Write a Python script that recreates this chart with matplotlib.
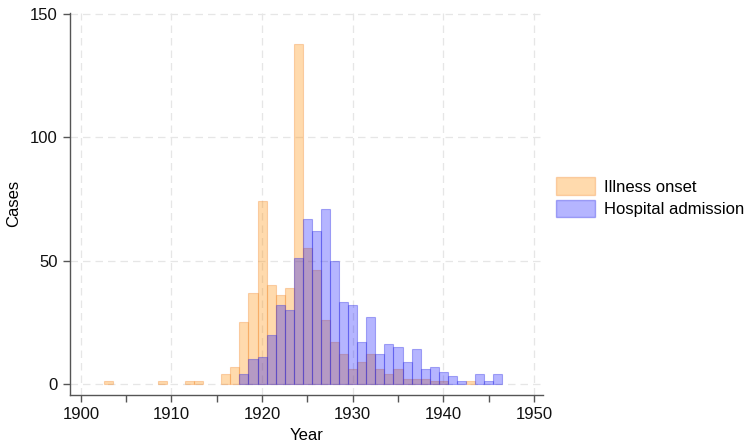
import matplotlib.pyplot as plt
from matplotlib.patches import Patch

plt.rcParams['font.family'] = ['Liberation Sans', 'DejaVu Sans']

# cases per year
onset_years = [1903, 1909, 1912, 1913, 1916, 1917, 1918, 1919, 1920, 1921,
               1922, 1923, 1924, 1925, 1926, 1927, 1928, 1929, 1930, 1931,
               1932, 1933, 1934, 1935, 1936, 1937, 1938, 1939, 1940, 1943]
onset_cases = [1, 1, 1, 1, 4, 7, 25, 37, 74, 40,
               36, 39, 138, 55, 46, 26, 17, 12, 6, 9,
               12, 6, 4, 6, 2, 2, 2, 1, 1, 1]

admit_years = [1918, 1919, 1920, 1921, 1922, 1923, 1924, 1925, 1926, 1927,
               1928, 1929, 1930, 1931, 1932, 1933, 1934, 1935, 1936, 1937,
               1938, 1939, 1940, 1941, 1942, 1944, 1945, 1946]
admit_cases = [4, 10, 11, 20, 32, 30, 51, 67, 62, 71,
               50, 33, 32, 17, 27, 12, 16, 15, 9, 14,
               6, 7, 5, 3, 1, 4, 1, 4]

labels = ['Illness onset', 'Hospital admission']

orange_face = (1.0, 0.55, 0.0, 0.32)
orange_edge = (0.95, 0.55, 0.2, 0.35)
blue_face = (0.0, 0.0, 1.0, 0.29)
blue_edge = (0.2, 0.2, 0.9, 0.38)

fig = plt.figure(figsize=(7.5, 4.45), dpi=100)
ax = fig.add_axes([0.0933, 0.1124, 0.6307, 0.8591])

ax.bar(onset_years, onset_cases, width=1, facecolor=orange_face,
       edgecolor=orange_edge, linewidth=0.8, zorder=2)
ax.bar(admit_years, admit_cases, width=1, facecolor=blue_face,
       edgecolor=blue_edge, linewidth=0.8, zorder=3)

ax.set_xlim(1898.8, 1951.0)
ax.set_ylim(-4.5, 150.5)

ax.set_xticks(range(1900, 1951, 5))
ax.set_xticklabels([str(y) if y % 10 == 0 else '' for y in range(1900, 1951, 5)])
ax.set_yticks([0, 50, 100, 150])

# dashed grid only on the labelled positions
for x in range(1900, 1951, 10):
    ax.axvline(x, color='#e6e6e6', linestyle=(0, (6, 4)), linewidth=0.9, zorder=0)
for y in [0, 50, 100, 150]:
    ax.axhline(y, color='#e6e6e6', linestyle=(0, (6, 4)), linewidth=0.9, zorder=0)

for s in ['top', 'right']:
    ax.spines[s].set_visible(False)
for s in ['left', 'bottom']:
    ax.spines[s].set_color('#555555')
    ax.spines[s].set_linewidth(1.0)

ax.tick_params(axis='both', direction='out', length=5, width=1, color='#555555',
               labelsize=12, labelcolor='#111111', pad=4)
ax.set_xlabel('Year', fontsize=12, labelpad=4)
ax.set_ylabel('Cases', fontsize=12, labelpad=6)

handles = [Patch(facecolor=orange_face, edgecolor=orange_edge, label=labels[0]),
           Patch(facecolor=blue_face, edgecolor=blue_edge, label=labels[1])]
fig.legend(handles=handles, loc='center left', bbox_to_anchor=(0.741, 0.557),
           frameon=False, fontsize=12, handlelength=2.35, handleheight=1.2,
           handletextpad=0.55, labelspacing=0.3, borderpad=0, borderaxespad=0)

fig.savefig('out.png', dpi=100)
